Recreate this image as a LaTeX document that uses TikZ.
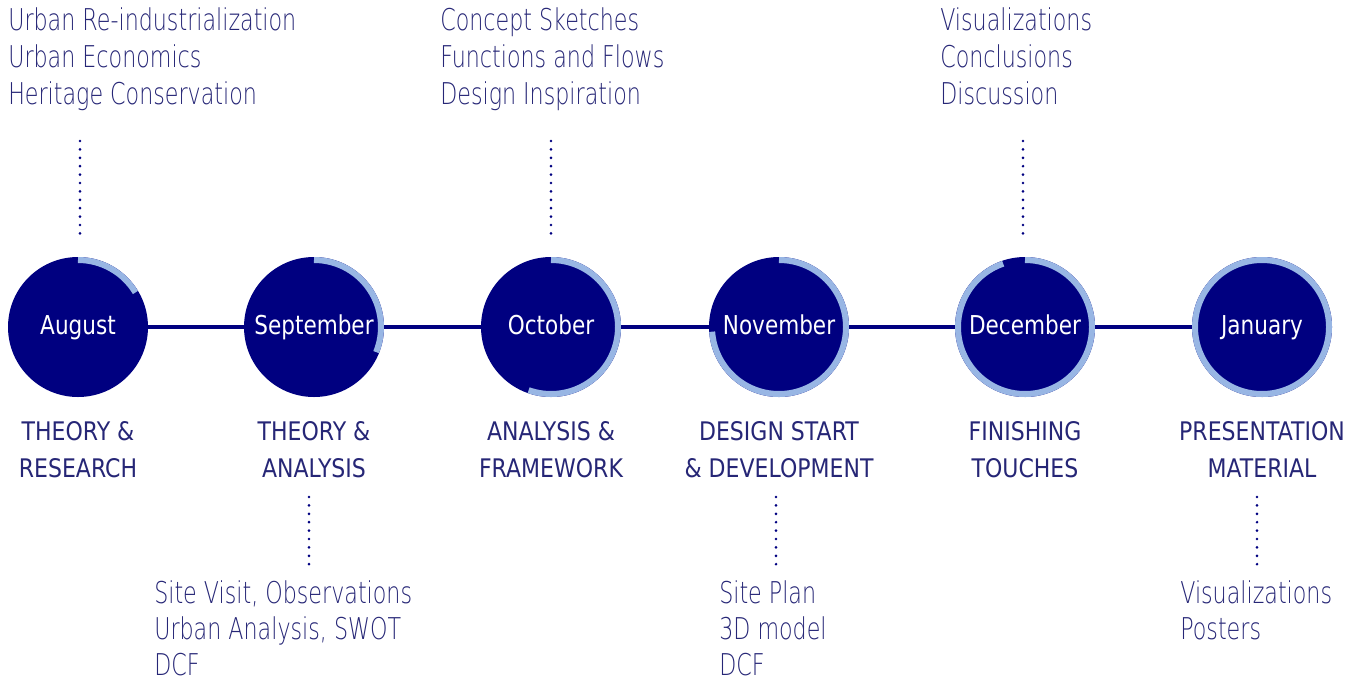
\documentclass[tikz,border=0pt]{standalone}
\usepackage{fontspec}
\usetikzlibrary{calc}
\definecolor{tlnavy}{RGB}{0,0,128}
\definecolor{tlring}{RGB}{152,182,228}
\definecolor{tltext}{RGB}{38,38,118}
% thin condensed face for the task lists, plain one for months and phases
\IfFontExistsTF{DejaVu Sans ExtraLight}
  {\newfontfamily\descfont[FakeStretch=0.74]{DejaVu Sans ExtraLight}}
  {\newfontfamily\descfont[FakeStretch=0.74]{DejaVu Sans}}
\newfontfamily\headfont[FakeStretch=0.83]{DejaVu Sans}
\newfontfamily\phasefont[FakeStretch=0.86]{DejaVu Sans}

\begin{document}
\begin{tikzpicture}[
  x=0.75pt, y=0.75pt,
  month/.style={circle, fill=tlnavy, minimum size=105pt, inner sep=0pt, outer sep=0pt,
    text=white, text height=14.5pt, text depth=4pt, font=\headfont\fontsize{19.5}{20}\selectfont},
  ring/.style={draw=tlring, line width=4.5pt},
  link/.style={draw=tlnavy, line width=3.4pt},
  dots/.style={draw=tlnavy, line width=2.2pt, line cap=round, dash pattern=on 0pt off 6.3pt},
  desc/.style={anchor=base west, inner sep=0pt, text=tltext, font=\descfont\fontsize{22.5}{27}\selectfont},
  phase/.style={anchor=base, inner sep=0pt, text=tltext, font=\phasefont\fontsize{19.2}{20}\selectfont}
]
  \useasboundingbox (0,0) rectangle (1356,-682);

  % months with their progress rings
  \foreach \name/\lbl/\x/\pend in {aug/August/78/31, sep/September/314/-22,
      oct/October/551/-109.5, nov/November/779/-176, dec/December/1025/-251,
      jan/January/1262/-270} {
    \node[month] (\name) at (\x,-327) {\lbl};
    \draw[ring] ([shift={(90:67)}]\name.center) arc[start angle=90, end angle=\pend, radius=67];
  }
  \draw[link] (aug) -- (sep);
  \draw[link] (sep) -- (oct);
  \draw[link] (oct) -- (nov);
  \draw[link] (nov) -- (dec);
  \draw[link] (dec) -- (jan);

  % phase titles under the circles
  \foreach \name/\x/\one/\two in {aug/78/{THEORY \&}/RESEARCH, sep/314/{THEORY \&}/ANALYSIS,
      oct/551/{ANALYSIS \&}/FRAMEWORK, nov/779/{DESIGN START}/{\& DEVELOPMENT},
      dec/1025/FINISHING/TOUCHES, jan/1262/PRESENTATION/MATERIAL} {
    \node[phase] (\name-p1) at (\x,-440) {\one};
    \node[phase] (\name-p2) at (\x,-477) {\two};
  }

  % task lists above
  \foreach \t [count=\i] in {Urban Re-industrialization, Urban Economics, Heritage Conservation}
    \node[desc] (aug-d\i) at (8,{-30-37*(\i-1)}) {\t};
  \foreach \t [count=\i] in {Concept Sketches, Functions and Flows, Design Inspiration}
    \node[desc] (oct-d\i) at (440,{-30-37*(\i-1)}) {\t};
  \foreach \t [count=\i] in {Visualizations, Conclusions, Discussion}
    \node[desc] (dec-d\i) at (940,{-30-37*(\i-1)}) {\t};

  % task lists below
  \foreach \t [count=\i] in {{Site Visit, Observations}, {Urban Analysis, SWOT}, DCF}
    \node[desc] (sep-d\i) at (154,{-603-36*(\i-1)}) {\t};
  \foreach \t [count=\i] in {Site Plan, 3D model, DCF}
    \node[desc] (nov-d\i) at (719,{-603-36*(\i-1)}) {\t};
  \foreach \t [count=\i] in {Visualizations, Posters}
    \node[desc] (jan-d\i) at (1180,{-603-36*(\i-1)}) {\t};

  % dotted leaders
  \coordinate (aug-a) at (80,-141);   \coordinate (aug-b) at (80,-234);
  \coordinate (oct-a) at (551,-141);  \coordinate (oct-b) at (551,-234);
  \coordinate (dec-a) at (1023,-141); \coordinate (dec-b) at (1023,-234);
  \coordinate (sep-a) at (309,-497);  \coordinate (sep-b) at (309,-568);
  \coordinate (nov-a) at (776,-497);  \coordinate (nov-b) at (776,-568);
  \coordinate (jan-a) at (1257,-497); \coordinate (jan-b) at (1257,-568);
  \foreach \name in {aug, oct, dec, sep, nov, jan}
    \draw[dots] (\name-a) -- (\name-b);
\end{tikzpicture}
\end{document}
